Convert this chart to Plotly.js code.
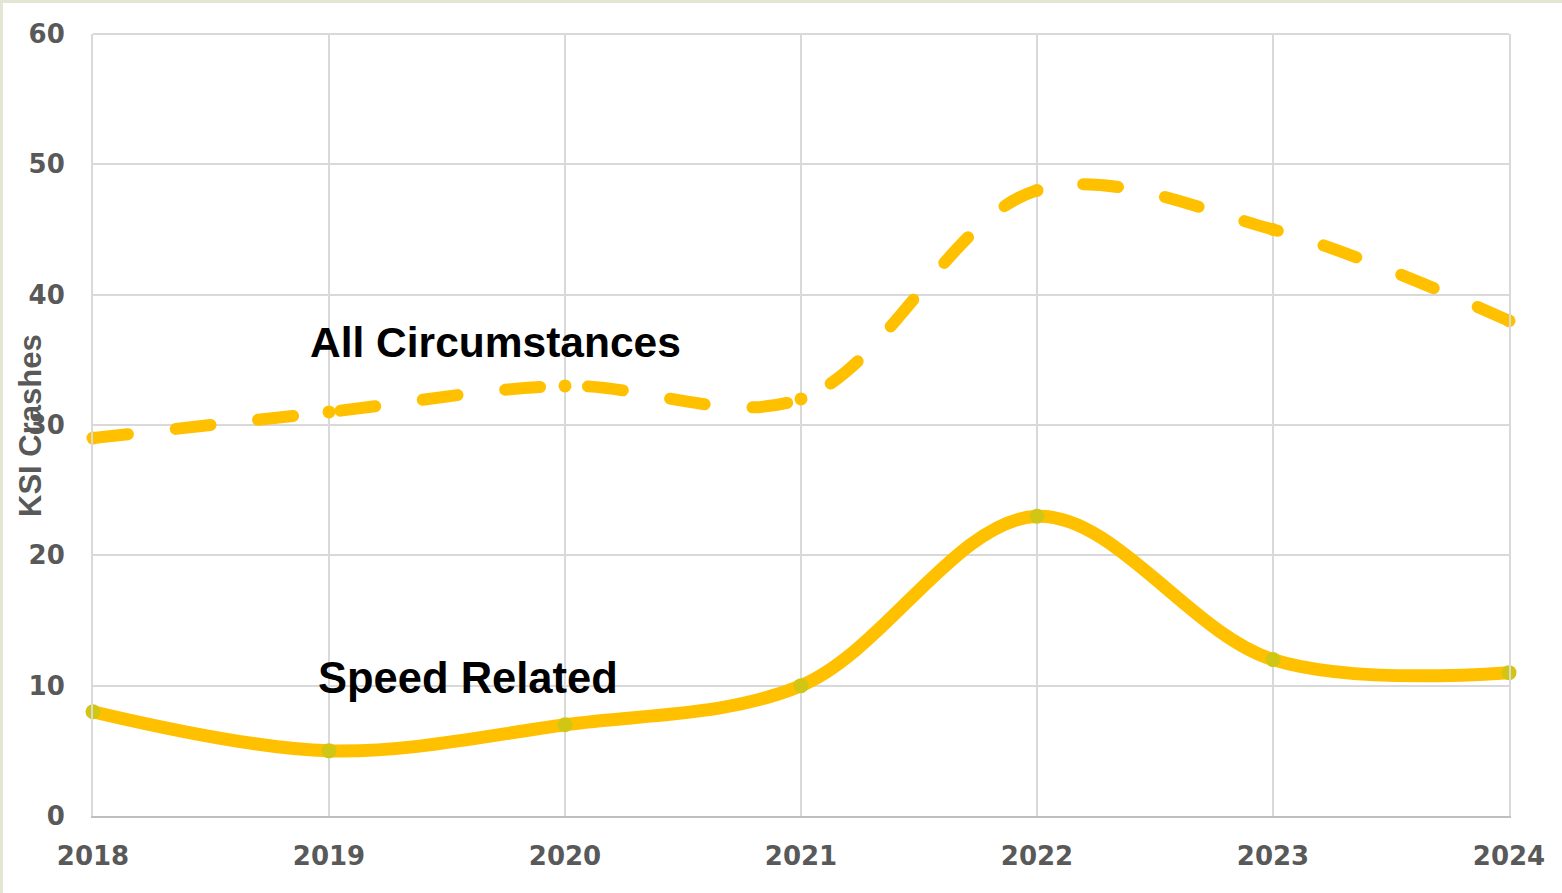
<!DOCTYPE html>
<html>
<head>
<meta charset="utf-8">
<script src="https://cdn.plot.ly/plotly-3.0.1.min.js"></script>
<style>
  html, body { margin: 0; padding: 0; background: #ffffff; }
  #wrap { width: 1559px; height: 890px; border-top: 3px solid #e1e7d2; border-left: 3px solid #e1e7d2; }
  #chart { width: 1559px; height: 890px; }
  path.js-line { stroke-linecap: round !important; }
</style>
</head>
<body>
<div id="wrap"><div id="chart"></div></div>
<script>
const years = ['2018', '2019', '2020', '2021', '2022', '2023', '2024'];
const allCircumstances = [29, 31, 33, 32, 48, 45, 38];
const speedRelated = [8, 5, 7, 10, 23, 12, 11];
const yTicks = [0, 10, 20, 30, 40, 50, 60];

const tickFont = { family: 'DejaVu Sans, Liberation Sans, Arial, sans-serif', size: 26, color: '#595959', weight: 'bold' };

const traces = [
  {
    x: years, y: allCircumstances, name: 'All Circumstances',
    type: 'scatter', mode: 'lines+markers',
    line: { color: '#FFC000', width: 12, shape: 'spline', smoothing: 1, dash: '35px,48px' },
    marker: { color: '#FFC000', size: 13 },
    cliponaxis: false
  },
  {
    x: years, y: speedRelated, name: 'Speed Related',
    type: 'scatter', mode: 'lines+markers',
    line: { color: '#FFC000', width: 13, shape: 'spline', smoothing: 1 },
    marker: { color: '#D2C614', size: 15 },
    cliponaxis: false
  }
];

const layout = {
  width: 1559, height: 890,
  margin: { l: 90, r: 53, t: 31, b: 77 },
  paper_bgcolor: '#ffffff', plot_bgcolor: '#ffffff',
  showlegend: false,
  font: { family: 'Liberation Sans, Arial, sans-serif' },
  xaxis: {
    type: 'category', range: [0, 6],
    showgrid: true, gridcolor: '#d9d9d9', gridwidth: 2,
    zeroline: false, showline: true, linecolor: '#bfbfbf', linewidth: 2,
    ticks: 'outside', ticklen: 16, tickcolor: 'rgba(0,0,0,0)',
    tickfont: tickFont, fixedrange: true
  },
  yaxis: {
    range: [0, 60], tickvals: yTicks,
    showgrid: true, gridcolor: '#d9d9d9', gridwidth: 2,
    zeroline: false, showline: true, mirror: true, linecolor: '#d9d9d9', linewidth: 2,
    ticks: 'outside', ticklen: 21, tickcolor: 'rgba(0,0,0,0)',
    tickfont: tickFont, fixedrange: true
  },
  shapes: [
    { type: 'line', xref: 'paper', yref: 'paper', x0: 0, x1: 1, y0: 1, y1: 1,
      line: { color: '#d9d9d9', width: 2 }, layer: 'below' }
  ],
  annotations: [
    { text: 'KSI Crashes', xref: 'paper', yref: 'paper', x: -0.0445, y: 0.5,
      textangle: -90, showarrow: false, xanchor: 'center', yanchor: 'middle',
      font: { family: 'Liberation Sans, Arial, sans-serif', size: 31, color: '#595959', weight: 'bold' } },
    { text: 'All Circumstances', xref: 'paper', yref: 'paper', x: (495 - 93) / 1416, y: (816 - 342) / 782,
      showarrow: false, xanchor: 'center', yanchor: 'middle',
      font: { family: 'Liberation Sans, Arial, sans-serif', size: 42.5, color: '#000000', weight: 'bold' } },
    { text: 'Speed Related', xref: 'paper', yref: 'paper', x: (468 - 93) / 1416, y: (816 - 678) / 782,
      showarrow: false, xanchor: 'center', yanchor: 'middle',
      font: { family: 'Liberation Sans, Arial, sans-serif', size: 43.5, color: '#000000', weight: 'bold' } }
  ]
};

Plotly.newPlot('chart', traces, layout, { displayModeBar: false, staticPlot: true });
</script>
</body>
</html>
